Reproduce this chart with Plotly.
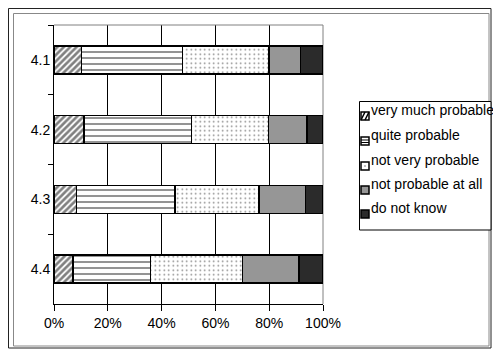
import plotly.graph_objects as go

categories = ["4.1", "4.2", "4.3", "4.4"]
series_names = ["very much probable", "quite probable", "not very probable",
                "not probable at all", "do not know"]
very_much = [10.2, 11.2, 8.3, 7.1]
quite = [37.5, 39.9, 36.6, 28.8]
not_very = [32.2, 28.7, 31.3, 34.1]
not_at_all = [11.7, 14.3, 17.3, 21.1]
dont_know = [8.4, 5.9, 6.5, 8.9]
x_tick_vals = [0, 20, 40, 60, 80, 100]
x_tick_text = ["0%", "20%", "40%", "60%", "80%", "100%"]

FONT = "Liberation Sans, Arial, sans-serif"
W, H = 493, 352
L, R, T, B = 54, 170, 25, 48
PW, PH = W - L - R, H - T - B


def X(px):
    return (px - L) / PW


def Y(py):
    return (H - B - py) / PH


styles = [
    dict(color="white", pattern=dict(shape="/", fgcolor="black", bgcolor="white", size=4.5, solidity=0.6)),
    dict(color="white", pattern=dict(shape="-", fgcolor="black", bgcolor="white", size=6, solidity=0.28)),
    dict(color="white", pattern=dict(shape=".", fgcolor="black", bgcolor="white", size=4.5, solidity=0.1)),
    dict(color="#969696"),
    dict(color="#2b2b2b"),
]
values = [very_much, quite, not_very, not_at_all, dont_know]

fig = go.Figure()
for name, vals, st in zip(series_names, values, styles):
    marker = dict(st)
    marker["line"] = dict(color="black", width=1.5)
    fig.add_trace(go.Bar(y=categories, x=vals, name=name, orientation="h",
                         marker=marker, width=0.4, showlegend=False))

shapes = []
# outer chart borders
shapes.append(dict(type="rect", xref="paper", yref="paper", x0=X(8.5), x1=X(491), y0=Y(8.5), y1=Y(348),
                   line=dict(color="#222222", width=1), layer="above"))
shapes.append(dict(type="rect", xref="paper", yref="paper", x0=X(13.5), x1=X(489), y0=Y(13.5), y1=Y(346),
                   line=dict(color="#888888", width=1), layer="above"))
# plot area top & right (gray)
shapes.append(dict(type="line", xref="paper", yref="paper", x0=0, x1=1, y0=1, y1=1,
                   line=dict(color="#808080", width=1), layer="above"))
shapes.append(dict(type="line", xref="paper", yref="paper", x0=1, x1=1, y0=0, y1=1,
                   line=dict(color="#808080", width=1), layer="below"))
# legend box
shapes.append(dict(type="rect", xref="paper", yref="paper", x0=X(359.5), x1=X(491), y0=Y(101.5), y1=Y(230),
                   line=dict(color="black", width=1), fillcolor="white", layer="above"))

annotations = []
sw_x0, sw_x1 = 361, 369
sw_tops = [112, 137, 162, 186, 210]
txt_y = [110, 135, 160, 184, 208]
fills = ["white", "white", "white", "#969696", "#2b2b2b"]
for i, name in enumerate(series_names):
    t = sw_tops[i]
    shapes.append(dict(type="rect", xref="paper", yref="paper", x0=X(sw_x0), x1=X(sw_x1), y0=Y(t), y1=Y(t + 8),
                       line=dict(color="black", width=1.5), fillcolor=fills[i], layer="above"))
    if i == 0:
        for k in range(2):
            off = k * 4
            shapes.append(dict(type="line", xref="paper", yref="paper",
                               x0=X(sw_x0 + off), x1=X(sw_x0 + 4 + off), y0=Y(t + 8), y1=Y(t),
                               line=dict(color="black", width=1.5), layer="above"))
    elif i == 1:
        for dy in (3, 5.5):
            shapes.append(dict(type="line", xref="paper", yref="paper", x0=X(sw_x0), x1=X(sw_x1),
                               y0=Y(t + dy), y1=Y(t + dy), line=dict(color="black", width=1), layer="above"))
    elif i == 2:
        shapes.append(dict(type="rect", xref="paper", yref="paper", x0=X(364.5), x1=X(365.5),
                           y0=Y(t + 3.5), y1=Y(t + 4.5), line=dict(width=0), fillcolor="black", layer="above"))
    annotations.append(dict(xref="paper", yref="paper", x=X(369), y=Y(txt_y[i]), text=name,
                            showarrow=False, xanchor="left", yanchor="middle",
                            font=dict(family=FONT, size=14, color="black")))

fig.update_layout(
    width=W, height=H, autosize=False,
    margin=dict(l=L, r=R, t=T, b=B, pad=0),
    barmode="stack",
    paper_bgcolor="white", plot_bgcolor="white",
    font=dict(family=FONT, size=14, color="black"),
    shapes=shapes, annotations=annotations,
    showlegend=False,
    xaxis=dict(range=[0, 100], tickvals=x_tick_vals, ticktext=x_tick_text,
               showgrid=True, gridcolor="black", gridwidth=1,
               showline=True, linecolor="black", linewidth=1,
               ticks="outside", ticklen=6, tickcolor="black", tickwidth=1,
               zeroline=False, fixedrange=True),
    yaxis=dict(type="category", categoryorder="array", categoryarray=categories,
               autorange="reversed", showgrid=False,
               showline=True, linecolor="black", linewidth=1,
               ticks="outside", ticklen=5, tickcolor="black", tickwidth=1,
               tickson="boundaries", zeroline=False, fixedrange=True),
)

fig.write_html(
    "out.html",
    config={"displayModeBar": False, "staticPlot": True},
    post_script="document.body.style.margin='0';document.body.style.padding='0';document.body.style.overflow='hidden';",
)
